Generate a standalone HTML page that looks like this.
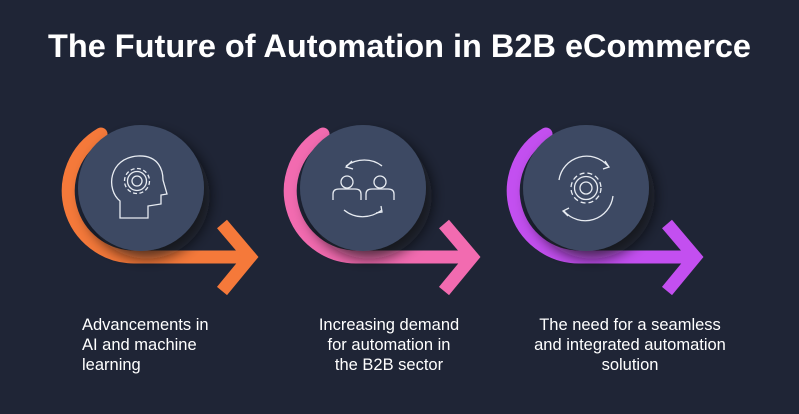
<!DOCTYPE html>
<html><head><meta charset="utf-8"><style>
html,body{margin:0;padding:0;background:#1f2536;}
body{width:799px;height:414px;overflow:hidden;position:relative;font-family:"Liberation Sans",sans-serif;}
h1{position:absolute;top:28px;left:0;width:799px;margin:0;text-align:center;color:#fff;font-size:32.5px;font-weight:bold;letter-spacing:0px;}
.t{position:absolute;top:315px;width:240px;text-align:center;color:#fff;font-size:16.5px;line-height:20px;}
</style></head><body>
<h1>The Future of Automation in B2B eCommerce</h1>
<svg width="799" height="414" style="position:absolute;left:0;top:0">
<defs>
<filter id="sh" x="-50%" y="-50%" width="200%" height="200%"><feDropShadow dx="6" dy="8" stdDeviation="7" flood-color="#0a0d15" flood-opacity="0.7"/></filter>
</defs>
<g id="g1">
<g fill="none" stroke-width="13" stroke-linecap="round" stroke-linejoin="miter">
<path d="M101,134 A66,66 0 0 0 134,257 L247,257" stroke="#f5793a"/>
<path d="M222,224 L250,257 L222,291" stroke="#f5793a" stroke-linecap="butt"/>
</g>
<circle cx="141" cy="188" r="63" fill="#3d4a63" filter="url(#sh)"/>
<g fill="none" stroke="#e8ecf2" stroke-width="1.3">
<path d="M120,218 L120,201 C106,190 108,158 138,156 C160,155 163,172 163,180 L167,194 L161,195 L161,204 L148,206 L148,218 Z"/>
<circle cx="137" cy="181" r="5"/>
<circle cx="137" cy="181" r="12.5" stroke-dasharray="4 2.5"/>
<circle cx="137" cy="181" r="9.5"/>
</g>
</g>
<g transform="translate(222,0)">
<g fill="none" stroke-width="13" stroke-linecap="round">
<path d="M101,134 A66,66 0 0 0 134,257 L247,257" stroke="#f26bb0"/>
<path d="M222,224 L250,257 L222,291" stroke="#f26bb0" stroke-linecap="butt"/>
</g>
<circle cx="141" cy="188" r="63" fill="#3d4a63" filter="url(#sh)"/>
<g fill="none" stroke="#e8ecf2" stroke-width="1.3">
<path d="M124,166 C135,158 150,158 160,166"/><path d="M130,161 L124,167 L131,169"/>
<path d="M122,210 C133,219 148,219 160,210"/><path d="M159,206 L160,212 L154,213"/>
<circle cx="125" cy="182" r="6"/><path d="M111,200 L111,194 Q111,189 117,189 L133,189 Q139,189 139,194 L139,200"/>
<circle cx="158" cy="182" r="6"/><path d="M144,200 L144,194 Q144,189 150,189 L166,189 Q172,189 172,194 L172,200"/>
</g>
</g>
<g transform="translate(445,0)">
<g fill="none" stroke-width="13" stroke-linecap="round">
<path d="M101,134 A66,66 0 0 0 134,257 L247,257" stroke="#c34ff0"/>
<path d="M222,224 L250,257 L222,291" stroke="#c34ff0" stroke-linecap="butt"/>
</g>
<circle cx="141" cy="188" r="63" fill="#3d4a63" filter="url(#sh)"/>
<g fill="none" stroke="#e8ecf2" stroke-width="1.3">
<path d="M163,166 A28,28 0 0 0 114,180"/><path d="M160,161 L164,167 L158,169"/>
<path d="M119,211 A28,28 0 0 0 168,196"/><path d="M123,216 L118,211 L124,208"/>
<circle cx="141" cy="188" r="6"/>
<circle cx="141" cy="188" r="15" stroke-dasharray="5 3"/>
<circle cx="141" cy="188" r="11.5"/>
</g>
</g>
</svg>
<div class="t" style="left:82px;text-align:left">Advancements in<br>AI and machine<br>learning</div>
<div class="t" style="left:269px">Increasing demand<br>for automation in<br>the B2B sector</div>
<div class="t" style="left:510px">The need for a seamless<br>and integrated automation<br>solution</div>
</body></html>
